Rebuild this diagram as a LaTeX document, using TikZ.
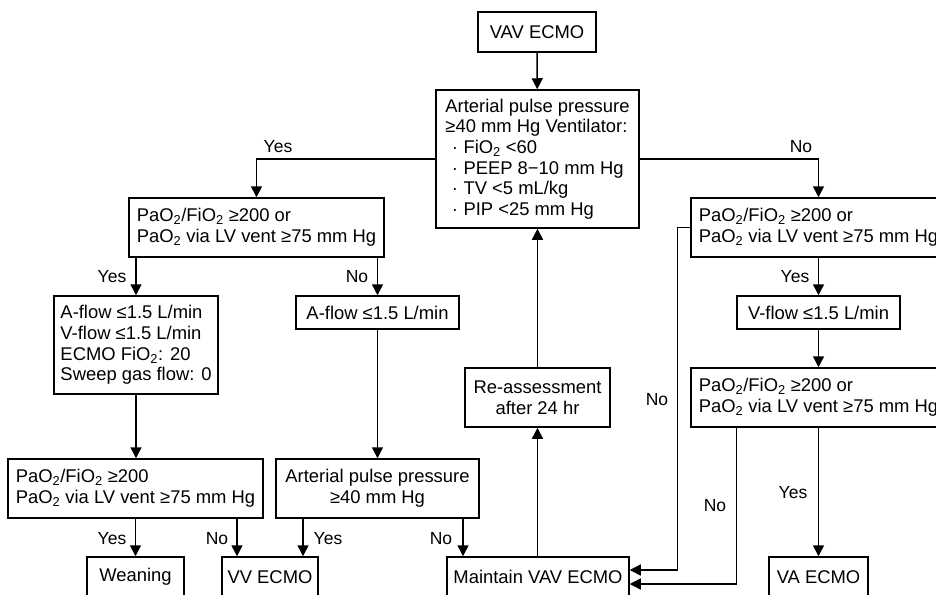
\documentclass[tikz,border=0pt]{standalone}
\usepackage{fontspec}
\setmainfont{Liberation Sans}
\usetikzlibrary{arrows.meta}
\tikzset{
  box/.style={draw, line width=1.5pt, rectangle, inner sep=0pt, font=\fontsize{18.4}{20.7}\selectfont},
  lbox/.style={box, align=left},
  cbox/.style={box, align=center},
  lab/.style={inner sep=0pt, font=\fontsize{17.5}{20}\selectfont},
  arr/.style={line width=1.5pt, -{Triangle[length=11pt,width=11pt]}},
  ln/.style={line width=1.5pt}
}
\newcommand{\sbt}{\textsubscript{2}}
\newcommand{\bul}{\hspace{0.35em}\textperiodcentered\hspace{0.3em}}
\begin{document}
\begin{tikzpicture}[x=1pt,y=-1pt]
\clip (0,0) rectangle (936,594);
\fill[white] (0,0) rectangle (936,594);
% boxes
\node[cbox, minimum width=118pt, minimum height=40pt] (vav) at (537,32) {VAV ECMO};
\node[lbox, minimum width=203pt, minimum height=138pt] (main) at (537.5,159)
  {Arterial pulse pressure\\ ≥40 mm Hg Ventilator:\\ \bul FiO\sbt{} <60\\ \bul PEEP 8\textminus10 mm Hg\\ \bul TV <5 mL/kg\\ \bul PIP <25 mm Hg};
\node[lbox, minimum width=255pt, minimum height=59pt] (tl) at (256.5,227.5)
  {PaO\sbt/FiO\sbt{} ≥200 or\\ PaO\sbt{} via LV vent ≥75 mm Hg};
\node[lbox, minimum width=164pt, minimum height=98pt] (yb) at (136,345)
  {A-flow ≤1.5 L/min\\ V-flow ≤1.5 L/min\\ ECMO FiO\sbt: 20\\ Sweep gas flow: 0};
\node[cbox, minimum width=163pt, minimum height=33pt] (af) at (377.5,312.5) {A-flow ≤1.5 L/min};
\node[lbox, minimum width=255pt, minimum height=59pt] (ll) at (135.5,488.5)
  {PaO\sbt/FiO\sbt{} ≥200\\ PaO\sbt{} via LV vent ≥75 mm Hg};
\node[cbox, minimum width=203pt, minimum height=59pt] (ap) at (377.5,488.5)
  {Arterial pulse pressure\\ ≥40 mm Hg};
\node[cbox, minimum width=97pt, minimum height=40pt] (wean) at (135.5,577) {Weaning};
\node[cbox, minimum width=96pt, minimum height=40pt] (vv) at (270,577) {VV ECMO};
\node[cbox, minimum width=182pt, minimum height=40pt] (maint) at (538,577) {Maintain VAV ECMO};
\node[cbox, minimum width=99pt, minimum height=40pt] (va) at (818.5,577) {VA ECMO};
\node[cbox, minimum width=145pt, minimum height=59pt] (re) at (537.5,397.5) {Re-assessment\\ after 24 hr};
\node[lbox, minimum width=255pt, minimum height=59pt] (tr) at (818.5,227.5)
  {PaO\sbt/FiO\sbt{} ≥200 or\\ PaO\sbt{} via LV vent ≥75 mm Hg};
\node[cbox, minimum width=163pt, minimum height=33pt] (vf) at (818.5,312.5) {V-flow ≤1.5 L/min};
\node[lbox, minimum width=255pt, minimum height=59pt] (rl) at (818.5,397.5)
  {PaO\sbt/FiO\sbt{} ≥200 or\\ PaO\sbt{} via LV vent ≥75 mm Hg};
% connectors
\draw[arr] (vav) -- (main);
\draw[arr] (main.west) -| (tl.north);
\draw[arr] (main.east) -| (tr.north);
\draw[arr] (yb.north |- tl.south) -- (yb.north);
\draw[arr] (af.north |- tl.south) -- (af.north);
\draw[arr] (yb) -- (ll.north -| yb.south);
\draw[arr] (af) -- (ap);
\draw[arr] (wean.north |- ll.south) -- (wean.north);
\draw[arr] ([xshift=-33pt]vv.north |- ll.south) -- ([xshift=-33pt]vv.north);
\draw[arr] ([xshift=33pt]vv.north |- ap.south) -- ([xshift=33pt]vv.north);
\draw[arr] ([xshift=-75pt]maint.north |- ap.south) -- ([xshift=-75pt]maint.north);
\draw[arr] (maint.north -| re.south) -- (re.south);
\draw[arr] (re) -- (main);
\draw[arr] (tr.west) -- ++(-13,0) |- ([yshift=7pt]maint.east);
\draw[arr] (tr) -- (vf);
\draw[arr] (vf) -- (rl);
\draw[arr] (rl.south -| vf.west) |- ([yshift=-7pt]maint.east);
\draw[arr] (va.north |- rl.south) -- (va.north);
% labels
\node[lab] (l1) at (278,147) {Yes};
\node[lab] (l2) at (801,147) {No};
\node[lab] (l3) at (112,277) {Yes};
\node[lab] (l4) at (357,277) {No};
\node[lab] (l5) at (795,277) {Yes};
\node[lab] (l6) at (657,400) {No};
\node[lab] (l7) at (715,506) {No};
\node[lab] (l8) at (793,493) {Yes};
\node[lab] (l9) at (112,539) {Yes};
\node[lab] (l10) at (217,539) {No};
\node[lab] (l11) at (328,539) {Yes};
\node[lab] (l12) at (441,539) {No};
\end{tikzpicture}
\end{document}
